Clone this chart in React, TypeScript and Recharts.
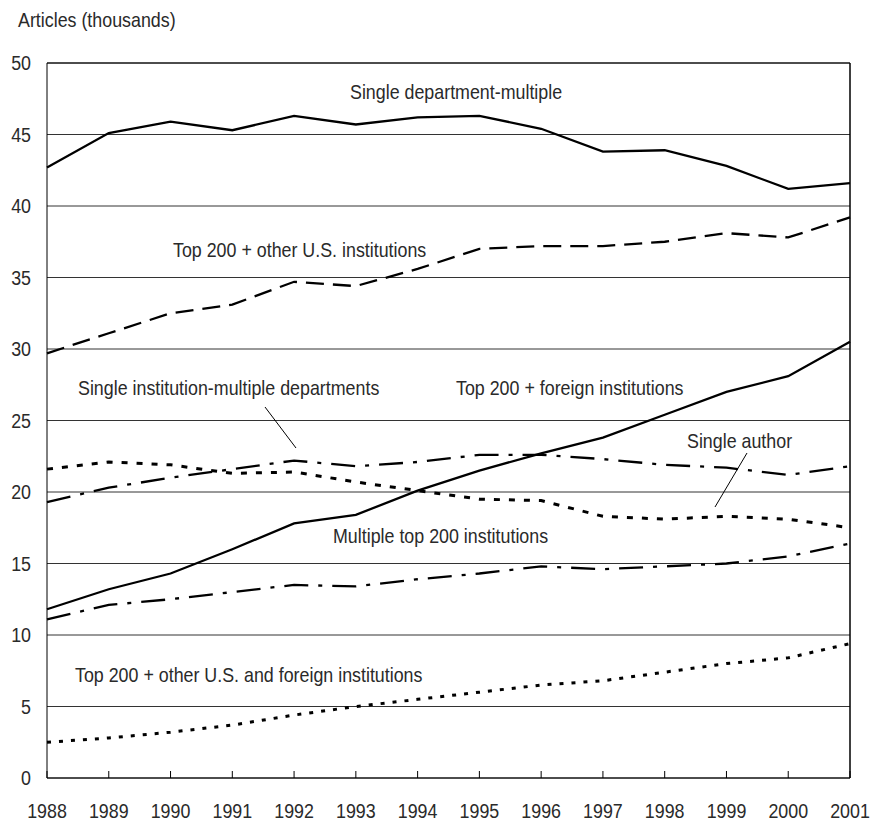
import React from 'react';
import {
  LineChart,
  Line,
  XAxis,
  YAxis,
  CartesianGrid,
  ReferenceLine,
  Customized,
} from 'recharts';

const years = [1988, 1989, 1990, 1991, 1992, 1993, 1994, 1995, 1996, 1997, 1998, 1999, 2000, 2001];

const singleDeptMultiple = [42.7, 45.1, 45.9, 45.3, 46.3, 45.7, 46.2, 46.3, 45.4, 43.8, 43.9, 42.8, 41.2, 41.6];
const top200OtherUS = [29.7, 31.1, 32.5, 33.1, 34.7, 34.4, 35.6, 37.0, 37.2, 37.2, 37.5, 38.1, 37.8, 39.2];
const top200Foreign = [11.8, 13.2, 14.3, 16.0, 17.8, 18.4, 20.1, 21.5, 22.7, 23.8, 25.4, 27.0, 28.1, 30.5];
const singleAuthor = [21.6, 22.1, 21.9, 21.3, 21.4, 20.7, 20.1, 19.5, 19.4, 18.3, 18.1, 18.3, 18.1, 17.5];
const singleInstMultiDept = [19.3, 20.3, 21.0, 21.6, 22.2, 21.8, 22.1, 22.6, 22.6, 22.3, 21.9, 21.7, 21.2, 21.8];
const multipleTop200 = [11.1, 12.1, 12.5, 13.0, 13.5, 13.4, 13.9, 14.3, 14.8, 14.6, 14.8, 15.0, 15.5, 16.4];
const top200OtherUSForeign = [2.5, 2.8, 3.2, 3.7, 4.4, 5.0, 5.5, 6.0, 6.5, 6.8, 7.4, 8.0, 8.4, 9.4];

const yTicks = [0, 5, 10, 15, 20, 25, 30, 35, 40, 45, 50];

const data = years.map((year, i) => ({
  year,
  singleDeptMultiple: singleDeptMultiple[i],
  top200OtherUS: top200OtherUS[i],
  top200Foreign: top200Foreign[i],
  singleAuthor: singleAuthor[i],
  singleInstMultiDept: singleInstMultiDept[i],
  multipleTop200: multipleTop200[i],
  top200OtherUSForeign: top200OtherUSForeign[i],
}));

// no narrow face installed, so squeeze Liberation Sans horizontally
const FONT = '"Liberation Sans", Arial, sans-serif';
const TEXT_COLOR = '#2a2a2a';
const SQUEEZE = 0.85;

function NarrowText({ x, y, anchor = 'start', children }: { x: number; y: number; anchor?: string; children: React.ReactNode }) {
  return (
    <text
      transform={`translate(${x},${y}) scale(${SQUEEZE},1)`}
      textAnchor={anchor}
      fontFamily={FONT}
      fontSize={21}
      fill={TEXT_COLOR}
    >
      {children}
    </text>
  );
}

function XTick(props: any) {
  const { x, y, payload } = props;
  return <NarrowText x={x} y={y + 15} anchor="middle">{payload.value}</NarrowText>;
}

function YTick(props: any) {
  const { x, y, payload } = props;
  return <NarrowText x={x} y={y + 7} anchor="end">{payload.value}</NarrowText>;
}

function Annotations() {
  const labels = [
    { text: 'Articles (thousands)', x: 18, y: 27 },
    { text: 'Single department-multiple', x: 350, y: 99 },
    { text: 'Top 200 + other U.S. institutions', x: 173, y: 257 },
    { text: 'Single institution-multiple departments', x: 78, y: 395 },
    { text: 'Top 200 + foreign institutions', x: 456, y: 395 },
    { text: 'Single author', x: 687, y: 448 },
    { text: 'Multiple top 200 institutions', x: 333, y: 543 },
    { text: 'Top 200 + other U.S. and foreign institutions', x: 75, y: 682 },
  ];
  return (
    <g>
      {labels.map((l) => (
        <NarrowText key={l.text} x={l.x} y={l.y}>{l.text}</NarrowText>
      ))}
      <line x1={265} y1={407} x2={296} y2={448} stroke="#000" strokeWidth={1} />
      <line x1={747} y1={453} x2={715} y2={507} stroke="#000" strokeWidth={1} />
    </g>
  );
}

export default function App() {
  return (
    <div style={{ position: 'absolute', left: 0, top: 0, width: 872, height: 822, background: '#fff' }}>
      <LineChart
        width={872}
        height={822}
        data={data}
        margin={{ top: 63, right: 22, bottom: 0, left: 0 }}
      >
        <CartesianGrid horizontal vertical={false} stroke="#333" strokeWidth={1} />
        <XAxis
          dataKey="year"
          type="number"
          domain={[1988, 2001]}
          ticks={years}
          height={44}
          interval={0}
          stroke="#000"
          tickSize={-7}
          tickMargin={32}
          tick={<XTick />}
        />
        <YAxis
          domain={[0, 50]}
          ticks={yTicks}
          width={47}
          stroke="#000"
          tickLine={false}
          tickSize={0}
          tickMargin={16}
          tick={<YTick />}
        />
        <ReferenceLine x={2001} stroke="#000" strokeWidth={1.5} />
        <ReferenceLine y={50} stroke="#000" strokeWidth={1} />
        <Line dataKey="singleDeptMultiple" stroke="#000" strokeWidth={2.3} dot={false} isAnimationActive={false} />
        <Line dataKey="top200OtherUS" stroke="#000" strokeWidth={2.3} strokeDasharray="18 9" dot={false} isAnimationActive={false} />
        <Line dataKey="top200Foreign" stroke="#000" strokeWidth={2.3} dot={false} isAnimationActive={false} />
        <Line dataKey="singleAuthor" stroke="#000" strokeWidth={3} strokeDasharray="6 9" dot={false} isAnimationActive={false} />
        <Line dataKey="singleInstMultiDept" stroke="#000" strokeWidth={2.3} strokeDasharray="24 10 4 10" dot={false} isAnimationActive={false} />
        <Line dataKey="multipleTop200" stroke="#000" strokeWidth={2.3} strokeDasharray="24 10 4 10" dot={false} isAnimationActive={false} />
        <Line dataKey="top200OtherUSForeign" stroke="#000" strokeWidth={3} strokeDasharray="4 8" dot={false} isAnimationActive={false} />
        <Customized component={<Annotations />} />
      </LineChart>
    </div>
  );
}
